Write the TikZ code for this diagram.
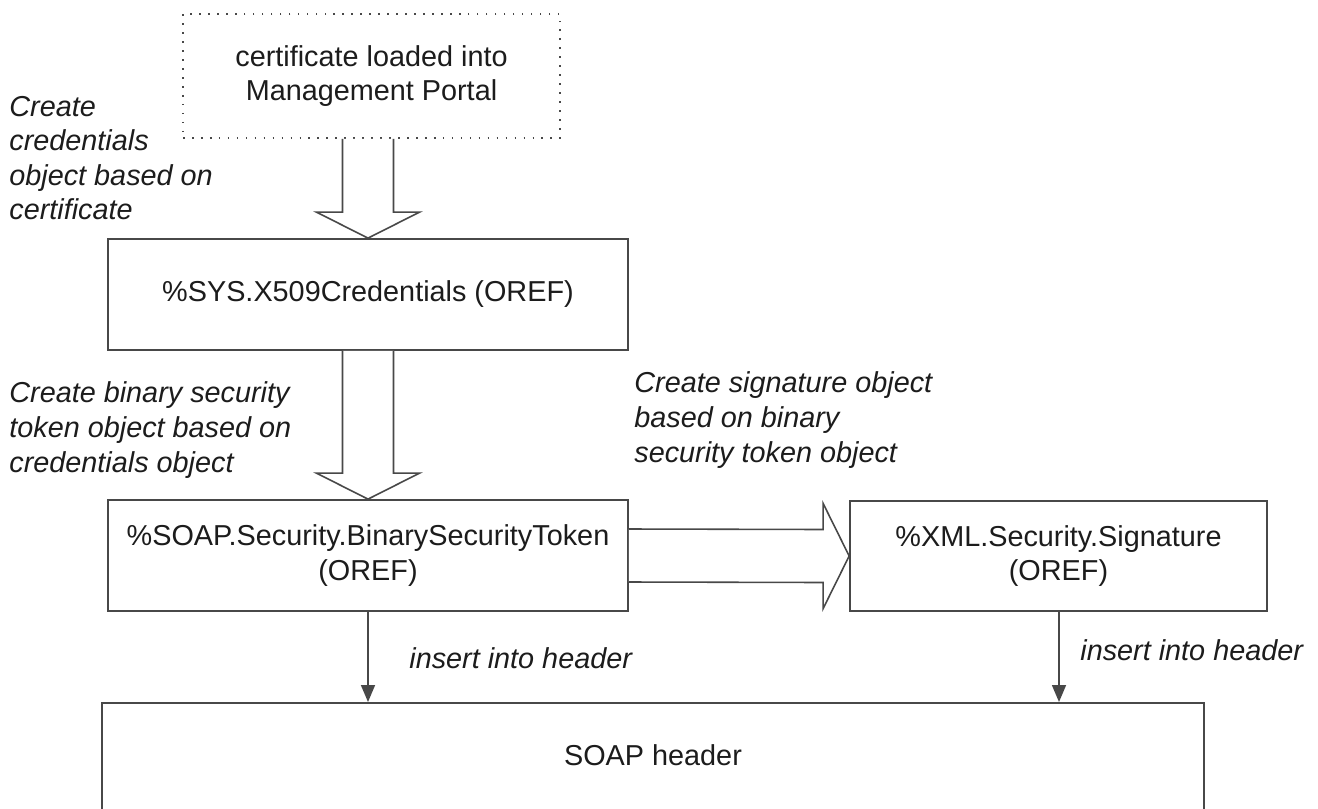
\documentclass[tikz,border=0pt]{standalone}
\usepackage{fontspec}
\setmainfont{Liberation Sans}
\usepackage{tikz}
\usetikzlibrary{positioning,calc,arrows.meta}
\definecolor{linegray}{RGB}{72,72,72}
\definecolor{textgray}{RGB}{28,28,28}
\newcommand{\diafont}{\fontsize{16.4}{19.7}\selectfont}

\begin{document}
\begin{tikzpicture}[x=0.02cm, y=-0.02cm,
    box/.style={draw=linegray, line width=1pt, align=center, inner sep=0pt, text=textgray, font=\diafont},
    dotbox/.style={box, dash pattern=on 0.9pt off 4.2pt},
    note/.style={align=left, anchor=west, inner sep=0pt, text=textgray, font=\diafont\itshape},
    blockarr/.style={draw=linegray, line width=0.9pt, fill=white, line join=miter},
    insarr/.style={draw=linegray, line width=0.9pt, -{Triangle[length=0.34cm, width=0.28cm]}}]
\clip (0,0) rectangle (1318,808);
\fill[white] (0,0) rectangle (1318,808);

% Boxes
\node[dotbox, minimum width=7.54cm, minimum height=2.48cm] (cert) at (371.5,76) {certificate loaded into\\Management Portal};
\node[box, minimum width=10.4cm, minimum height=2.22cm] (x509) at (368,294.5) {\%SYS.X509Credentials (OREF)};
\node[box, minimum width=10.4cm, minimum height=2.22cm] (bst) at (368,555.5) {\%SOAP.Security.BinarySecurityToken\\(OREF)};
\node[box, minimum width=8.34cm, minimum height=2.2cm] (sig) at (1058.5,556) {\%XML.Security.Signature\\(OREF)};
\node[box, minimum width=22.04cm, minimum height=2.6cm, anchor=north] (soap) at (653,702) {};
\node[text=textgray, font=\diafont] (soaptext) at (653,755) {SOAP header};

% Block arrows
\coordinate (colA) at (368,0);
\draw[blockarr] ($(cert.south -| colA)+(-25.5,0)$) -- ($(x509.north -| colA)+(-25.5,-26)$) -- ++(-26,0)
    -- (x509.north -| colA) -- ++(51.5,-26) -- ++(-26,0) -- ($(cert.south -| colA)+(25.5,0)$);
\draw[blockarr] ($(x509.south -| colA)+(-25.5,0)$) -- ($(bst.north -| colA)+(-25.5,-26)$) -- ++(-26,0)
    -- (bst.north -| colA) -- ++(51.5,-26) -- ++(-26,0) -- ($(x509.south -| colA)+(25.5,0)$);
\draw[blockarr] ($(bst.east)+(0,-26.5)$) -- ($(sig.west)+(-26,-26.5)$) -- ++(0,-26)
    -- (sig.west) -- ++(-26,52.5) -- ++(0,-26) -- ($(bst.east)+(0,26.5)$);

% Insert arrows
\coordinate (colB) at (1059,0);
\draw[insarr] (bst.south -| colA) -- (soap.north -| colA);
\draw[insarr] (sig.south -| colB) -- (soap.north -| colB);

% Labels
\node[note] (lblcred) at (9,158) {Create\\credentials\\object based on\\certificate};
\node[note] (lblbst) at (9,430) {Create binary security\\token object based on\\credentials object};
\node[note] (lblsig) at (634,420) {Create signature object\\based on binary\\security token object};
\node[note] (lblinsa) at (409,658) {insert into header};
\node[note] (lblinsb) at (1080,650) {insert into header};
\end{tikzpicture}
\end{document}
